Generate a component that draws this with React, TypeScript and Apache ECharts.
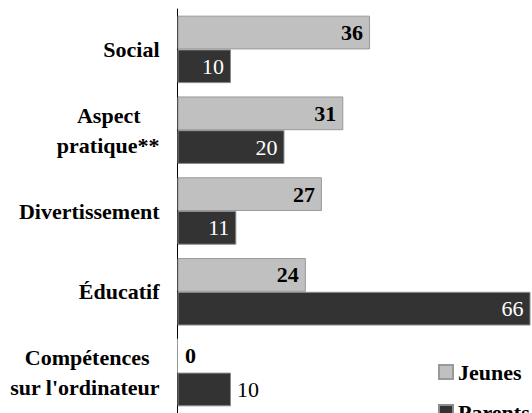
import React, { useEffect, useRef } from "react";
import * as echarts from "echarts";

const categories = [
  "Social",
  "Aspect\npratique**",
  "Divertissement",
  "Éducatif",
  "Compétences\nsur l'ordinateur",
];
const jeunesValues = [36, 31, 27, 24, 0];
const parentsValues = [10, 20, 11, 66, 10];
const seriesNames = ["Jeunes", "Parents"];

const FONT = "Liberation Serif";
const OUTSIDE_INDEX = 4; // category whose labels sit outside the bars

export default function App() {
  const ref = useRef<HTMLDivElement>(null);
  useEffect(() => {
    if (!ref.current) return;
    const chart = echarts.init(ref.current, null, { renderer: "svg" });
    const baseFont = { fontFamily: FONT, fontSize: 22, lineHeight: 30 };
    const option = {
      animation: false,
      textStyle: { fontFamily: FONT, fontSize: 22 },
      grid: { left: 177.5, top: 9, width: 353, height: 412.5 },
      legend: {
        data: seriesNames,
        orient: "vertical",
        left: 433,
        top: 354,
        height: 120,
        icon: "rect",
        itemWidth: 14,
        itemHeight: 14,
        itemGap: 14,
        textStyle: { fontFamily: FONT, fontSize: 22, fontWeight: "bold", color: "#000", lineHeight: 26 },
      },
      xAxis: {
        type: "value",
        min: 0,
        max: 66,
        show: false,
        splitLine: { show: false },
      },
      yAxis: {
        type: "category",
        data: categories,
        inverse: true,
        axisTick: { show: false },
        axisLine: { show: true, lineStyle: { color: "#000", width: 1 } },
        axisLabel: {
          fontFamily: FONT,
          fontSize: 22,
          lineHeight: 30,
          fontWeight: "bold",
          color: "#000",
          margin: 18,
          formatter: (v: string, i: number) => {
            const lines = v.split("\n");
            if (lines.length === 1) return v;
            return `{l${i}|${lines[0]}}\n{n|${lines[1]}}`;
          },
          rich: {
            l1: { ...baseFont, fontWeight: "bold", color: "#000", padding: [0, 19, 0, 0] },
            l4: { ...baseFont, fontWeight: "bold", color: "#000", padding: [0, 10, 0, 0] },
            n: { ...baseFont, fontWeight: "bold", color: "#000" },
          },
        },
      },
      series: [
        {
          name: seriesNames[0],
          type: "bar",
          barGap: "0%",
          barCategoryGap: "16.5%",
          itemStyle: { color: "#c0c0c0", borderColor: "#999", borderWidth: 1 },
          label: {
            show: true,
            position: "insideRight",
            distance: 7,
            fontFamily: FONT,
            fontSize: 22,
            fontWeight: "bold",
            color: "#000",
          },
          data: jeunesValues.map((v, i) =>
            i === OUTSIDE_INDEX
              ? { value: v, label: { position: "right", distance: 7 } }
              : v
          ),
        },
        {
          name: seriesNames[1],
          type: "bar",
          barGap: "0%",
          barCategoryGap: "16.5%",
          itemStyle: { color: "#333333", borderColor: "#8c8c8c", borderWidth: 1 },
          label: {
            show: true,
            position: "insideRight",
            distance: 7,
            fontFamily: FONT,
            fontSize: 22,
            fontWeight: "normal",
            color: "#fff",
          },
          data: parentsValues.map((v, i) =>
            i === OUTSIDE_INDEX
              ? { value: v, label: { position: "right", distance: 6, color: "#000" } }
              : v
          ),
        },
      ],
    };
    chart.setOption(option as any);
    return () => chart.dispose();
  }, []);
  return (
    <div
      ref={ref}
      style={{ position: "fixed", left: 0, top: 0, width: 532, height: 413, background: "#fff" }}
    />
  );
}
